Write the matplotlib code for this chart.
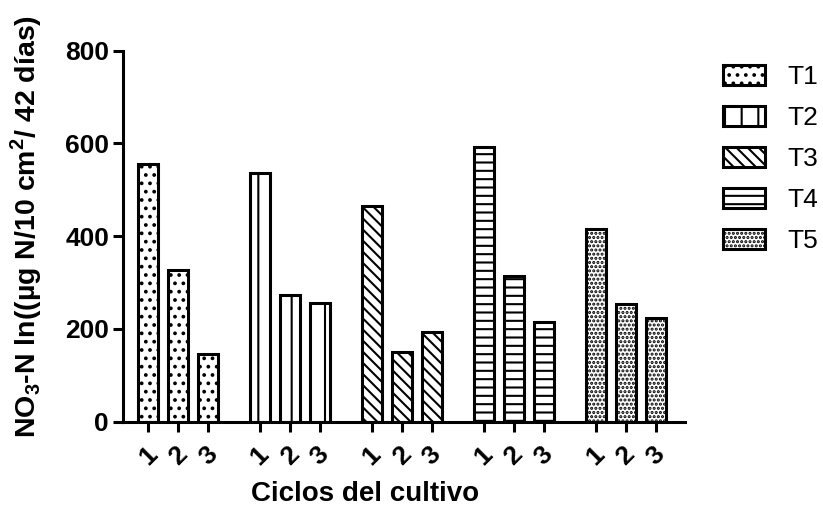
import numpy as np
import matplotlib
matplotlib.use('Agg')
import matplotlib.pyplot as plt
from matplotlib.patches import Patch

plt.rcParams['font.family'] = ['Liberation Sans', 'DejaVu Sans']
plt.rcParams['mathtext.fontset'] = 'custom'
plt.rcParams['mathtext.rm'] = 'Liberation Sans'
plt.rcParams['mathtext.bf'] = 'Liberation Sans:bold'
plt.rcParams['hatch.linewidth'] = 1.5

# datos
tratamientos = ['T1', 'T2', 'T3', 'T4', 'T5']
ciclos = ['1', '2', '3']
t1 = [555, 327, 145]
t2 = [536, 273, 257]
t3 = [465, 150, 193]
t4 = [592, 314, 215]
t5 = [416, 254, 224]
valores = [t1, t2, t3, t4, t5]
tramas = ['..', '|', '\\\\\\', '--', '....']

fig = plt.figure(figsize=(8.23, 5.14), dpi=100)
ax = fig.add_axes([123/823, 1 - 421.7/514, (685 - 123)/823, (421.7 - 50.7)/514])

paso = 3.73
xs, labels = [], []
for g, (vals, trama) in enumerate(zip(valores, tramas)):
    pos = g * paso + np.arange(len(ciclos))
    ax.bar(pos, vals, width=0.67, color='white', edgecolor='black',
           linewidth=2.2, hatch=trama, zorder=2)
    xs.extend(pos)
    labels.extend(ciclos)

ax.set_xlim(-0.84, 4 * paso + 2 + 0.98)
ax.set_ylim(0, 800)
ax.set_yticks([0, 200, 400, 600, 800])
ax.set_xticks(xs)
ax.set_xticklabels(labels, rotation=45, ha='center', va='top',
                   fontsize=19, fontweight='bold')
ax.tick_params(axis='x', length=7, width=2.2, pad=8)
ax.tick_params(axis='y', length=7, width=2.2, pad=3, labelsize=19)
for lab in ax.get_yticklabels():
    lab.set_fontweight('bold')

for s in ['top', 'right']:
    ax.spines[s].set_visible(False)
for s in ['left', 'bottom']:
    ax.spines[s].set_linewidth(2.2)

ax.set_xlabel('Ciclos del cultivo', fontsize=20, fontweight='bold')
ax.xaxis.set_label_coords(0.43, -0.16)
ax.set_ylabel(r'NO$_\mathbf{3}$-N ln((µg N/10 cm$^\mathbf{2}$/ 42 días)',
              fontsize=20.5, fontweight='bold')
ax.yaxis.set_label_coords(-0.14, 0.526)

handles = [Patch(facecolor='white', edgecolor='black', linewidth=2.2, hatch=t)
           for t in tramas]
fig.legend(handles, tratamientos, loc='upper left', bbox_to_anchor=(723/823, 1 - 65/514),
           frameon=False, borderpad=0, borderaxespad=0, fontsize=19,
           handlelength=1.6, handleheight=0.8, handletextpad=0.83, labelspacing=0.63)

fig.savefig('out.png', dpi=100)
